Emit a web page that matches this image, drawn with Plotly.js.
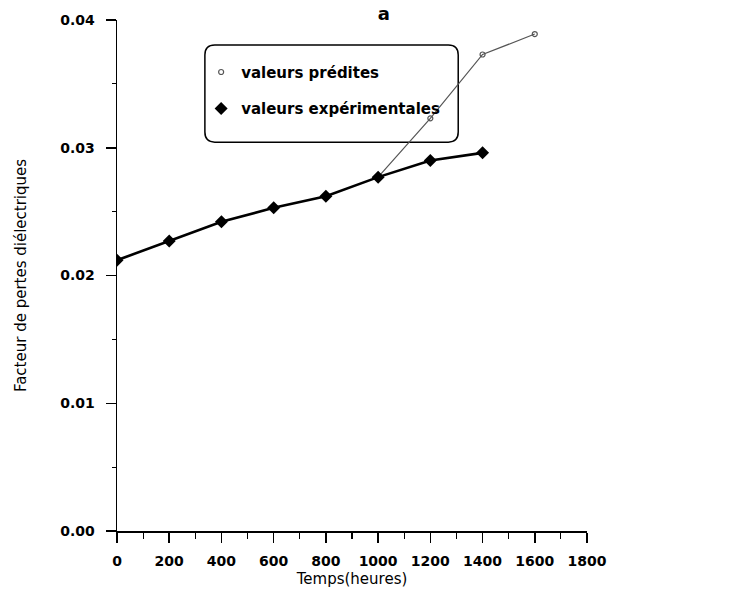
<!DOCTYPE html>
<html>
<head>
<meta charset="utf-8">
<script src="https://cdn.plot.ly/plotly-3.0.1.min.js"></script>
<style>html,body{margin:0;padding:0;background:#fff;}#chart{width:744px;height:594px;}</style>
</head>
<body>
<div id="chart"></div>
<script>
// Data
const hoursExp = [0, 200, 400, 600, 800, 1000, 1200, 1400];
const valExp = [0.0212, 0.0227, 0.0242, 0.0253, 0.0262, 0.0277, 0.0290, 0.0296];
const hoursPred = [1000, 1200, 1400, 1600];
const valPred = [0.0277, 0.0323, 0.0373, 0.0389];
const labelPred = 'valeurs prédites';
const labelExp = 'valeurs expérimentales';
const xTicks = [0, 200, 400, 600, 800, 1000, 1200, 1400, 1600, 1800];
const yTicks = [0.00, 0.01, 0.02, 0.03, 0.04];

const fontFam = '"DejaVu Sans", Verdana, sans-serif';

const traces = [
  {x: hoursPred, y: valPred, mode: 'lines', line: {color: '#555', width: 1.2}, showlegend: false, hoverinfo: 'skip'},
  {x: hoursPred.slice(1), y: valPred.slice(1), mode: 'markers', name: labelPred, legendgroup: 'p',
   marker: {symbol: 'circle-open', size: 5, color: '#555', line: {width: 1.2}}},
  {x: hoursExp, y: valExp, mode: 'lines', line: {color: '#000', width: 2.6}, showlegend: false, hoverinfo: 'skip'},
  {x: hoursExp, y: valExp, mode: 'markers', name: labelExp, legendgroup: 'e',
   marker: {symbol: 'diamond', size: 10, color: '#000'}}
];

// rounded legend box (paper coords)
const bx0 = 0.187, bx1 = 0.726, by0 = 0.761, by1 = 0.951, rx = 0.021, ry = 0.0196;
const boxPath = `M ${bx0+rx} ${by1} L ${bx1-rx} ${by1} Q ${bx1} ${by1} ${bx1} ${by1-ry} L ${bx1} ${by0+ry} Q ${bx1} ${by0} ${bx1-rx} ${by0} L ${bx0+rx} ${by0} Q ${bx0} ${by0} ${bx0} ${by0+ry} L ${bx0} ${by1-ry} Q ${bx0} ${by1} ${bx0+rx} ${by1} Z`;

const layout = {
  width: 744, height: 594,
  margin: {l: 117, r: 157, t: 20, b: 63},
  paper_bgcolor: '#fff', plot_bgcolor: '#fff',
  font: {family: fontFam, color: '#000', size: 14},
  title: {text: 'a', x: 0.516, xanchor: 'center', y: 0.977, yanchor: 'middle', yref: 'container',
          font: {size: 18, family: fontFam, color: '#000', weight: 'bold'}},
  showlegend: true,
  legend: {x: 0.179, xanchor: 'left', y: 0.93, yanchor: 'top', bgcolor: 'rgba(0,0,0,0)',
           borderwidth: 0, traceorder: 'grouped', tracegroupgap: 14,
           font: {size: 15, family: fontFam, color: '#000', weight: 'bold'}, itemwidth: 30},
  xaxis: {
    range: [0, 1800], tickvals: xTicks, ticktext: xTicks.map(String),
    showgrid: false, zeroline: false, showline: true, linecolor: '#000', linewidth: 1.5,
    ticks: 'outside', ticklen: 10, tickwidth: 1.5, tickcolor: '#000', ticklabelstandoff: 7,
    minor: {dtick: 100, tick0: 0, ticks: 'outside', ticklen: 6, tickwidth: 1.2, tickcolor: '#000', showgrid: false},
    tickfont: {size: 14, family: fontFam, color: '#000', weight: 'bold'},
    title: {text: 'Temps(heures)', standoff: 5, font: {size: 15, family: fontFam, color: '#000'}}
  },
  yaxis: {
    range: [0, 0.04], tickvals: yTicks, ticktext: yTicks.map(v => v.toFixed(2)),
    showgrid: false, zeroline: false, showline: true, linecolor: '#000', linewidth: 1.5,
    ticks: 'outside', ticklen: 10, tickwidth: 1.5, tickcolor: '#000', ticklabelstandoff: 8,
    minor: {dtick: 0.005, tick0: 0, ticks: 'outside', ticklen: 4, tickwidth: 1.2, tickcolor: '#000', showgrid: false},
    tickfont: {size: 14, family: fontFam, color: '#000', weight: 'bold'},
    title: {text: 'Facteur de pertes diélectriques', standoff: 30, font: {size: 15, family: fontFam, color: '#000'}}
  },
  shapes: [
    {type: 'path', xref: 'paper', yref: 'paper', path: boxPath, line: {color: '#000', width: 1.5}, fillcolor: 'rgba(0,0,0,0)', layer: 'below'}
  ]
};

Plotly.newPlot('chart', traces, layout, {displayModeBar: false, staticPlot: true});
</script>
</body>
</html>
